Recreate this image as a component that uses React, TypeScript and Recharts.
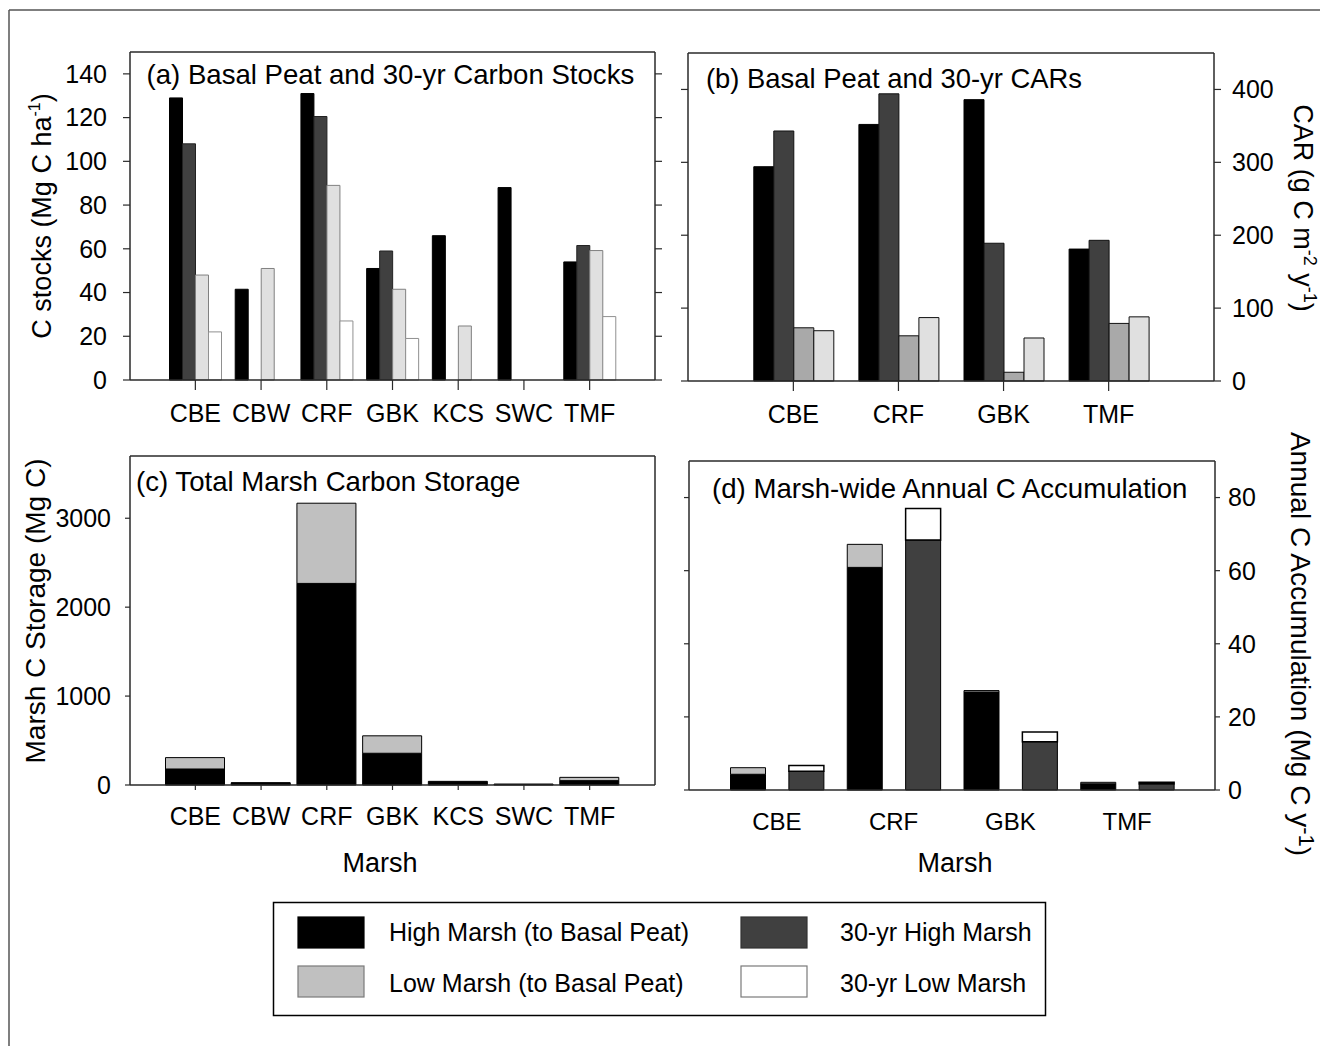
import React from 'react';
import { BarChart, Bar, XAxis, YAxis } from 'recharts';

const FONT = '"Liberation Sans", Arial, Helvetica, sans-serif';

// ---------- Panel (a): Basal peat and 30-yr carbon stocks (Mg C ha-1)
const marshesAll = ['CBE', 'CBW', 'CRF', 'GBK', 'KCS', 'SWC', 'TMF'];
const stockHighBasal = [129, 41.5, 131, 51, 66, 88, 54];
const stockHigh30 = [108, 0, 120.5, 59, 0, 0, 61.5];
const stockLowBasal = [48, 51, 89, 41.5, 24.7, 0, 59.2];
const stockLow30 = [22, 0, 27, 19, 0, 0, 29];
const stockTicks = [0, 20, 40, 60, 80, 100, 120, 140];

// ---------- Panel (b): Basal peat and 30-yr CARs (g C m-2 y-1)
const marshesCar = ['CBE', 'CRF', 'GBK', 'TMF'];
const carHighBasal = [294, 352, 386, 181];
const carHigh30 = [343, 394, 189, 193];
const carLowBasal = [73, 62, 12, 79];
const carLow30 = [69, 87, 59, 88];
const carTicks = [0, 100, 200, 300, 400];

// ---------- Panel (c): Total marsh carbon storage (Mg C)
const storageHigh = [180, 22, 2267, 357, 41, 11, 49];
const storageLow = [128, 3, 902, 196, 0, 0, 37];
const storageTicks = [0, 1000, 2000, 3000];

// ---------- Panel (d): Marsh-wide annual C accumulation (Mg C y-1)
const accumHighBasal = [4.3, 60.9, 26.8, 1.7];
const accumLowBasal = [1.8, 6.3, 0.4, 0.4];
const accumHigh30 = [5.1, 68.4, 13.2, 1.7];
const accumLow30 = [1.6, 8.6, 2.7, 0.4];
const accumTicks = [0, 20, 40, 60, 80];

// ---------- Legend
const legendNames = ['High Marsh (to Basal Peat)', 'Low Marsh (to Basal Peat)', '30-yr High Marsh', '30-yr Low Marsh'];

const C_BLACK = '#000000';
const C_DARK = '#404040';
const C_LIGHT = '#c0c0c0';
const C_PALE = '#e0e0e0';
const C_MID = '#a9a9a9';
const C_WHITE = '#ffffff';
const AXIS = '#2a2a2a';

const stockData = marshesAll.map((m, i) => ({
  marsh: m,
  hb: stockHighBasal[i],
  h30: stockHigh30[i],
  lb: stockLowBasal[i],
  l30: stockLow30[i],
}));

const carData = marshesCar.map((m, i) => ({
  marsh: m,
  hb: carHighBasal[i],
  h30: carHigh30[i],
  lb: carLowBasal[i],
  l30: carLow30[i],
}));

const storageData = marshesAll.map((m, i) => ({
  marsh: m,
  high: storageHigh[i],
  low: storageLow[i],
}));

const accumData = marshesCar.flatMap((m, i) => [
  { bar: m + ' basal', group: m, hb: accumHighBasal[i], lb: accumLowBasal[i], h30: 0, l30: 0 },
  { bar: m + ' 30-yr', group: m, hb: 0, lb: 0, h30: accumHigh30[i], l30: accumLow30[i] },
]);

const axisLine = { stroke: AXIS, strokeWidth: 1.5 };
const tickLineStyle = { stroke: AXIS, strokeWidth: 1.2 };
const tickText = { fontSize: 25, fill: '#000', fontFamily: FONT };
const blank = () => '';

function PanelA() {
  return (
    <div style={{ position: 'absolute', left: 0, top: 0 }}>
      <BarChart width={700} height={440} data={stockData} margin={{ top: 51, right: 0, bottom: 0, left: 0 }} barGap={0} barSize={13}>
        <XAxis dataKey="marsh" interval={0} padding={{ left: 32.5, right: 32.5 }} height={60} tickSize={10} tickMargin={14} tick={tickText} axisLine={axisLine} tickLine={tickLineStyle} />
        <XAxis xAxisId="top" orientation="top" dataKey="marsh" padding={{ left: 32.5, right: 32.5 }} height={1} tick={false} tickLine={false} axisLine={axisLine} />
        <YAxis domain={[0, 150]} ticks={stockTicks} interval={0} width={130} tickSize={7} tickMargin={16} tick={tickText} axisLine={axisLine} tickLine={tickLineStyle} />
        <YAxis yAxisId="right" orientation="right" type="number" allowDataOverflow domain={[0, 150]} ticks={stockTicks} interval={0} width={45} tickSize={7} tick={tickText} tickFormatter={blank} axisLine={axisLine} tickLine={tickLineStyle} />
        <Bar dataKey="hb" fill={C_BLACK} stroke="#000" strokeWidth={1} isAnimationActive={false} />
        <Bar dataKey="h30" fill={C_DARK} stroke="#222" strokeWidth={1} isAnimationActive={false} />
        <Bar dataKey="lb" fill={C_PALE} stroke="#808080" strokeWidth={1} isAnimationActive={false} />
        <Bar dataKey="l30" fill={C_WHITE} stroke="#909090" strokeWidth={1} isAnimationActive={false} />
      </BarChart>
    </div>
  );
}

function PanelB() {
  return (
    <div style={{ position: 'absolute', left: 660, top: 0 }}>
      <BarChart width={660} height={440} data={carData} margin={{ top: 52, right: 0, bottom: 0, left: 0 }} barGap={0} barSize={20}>
        <XAxis dataKey="marsh" interval={0} padding={{ left: 52.8, right: 52.8 }} height={59} tickSize={10} tickMargin={14} tick={tickText} axisLine={axisLine} tickLine={tickLineStyle} />
        <XAxis xAxisId="top" orientation="top" dataKey="marsh" padding={{ left: 52.8, right: 52.8 }} height={1} tick={false} tickLine={false} axisLine={axisLine} />
        <YAxis domain={[0, 450]} ticks={carTicks} interval={0} width={28} tickSize={7} tick={tickText} tickFormatter={blank} axisLine={axisLine} tickLine={tickLineStyle} />
        <YAxis yAxisId="right" orientation="right" type="number" allowDataOverflow domain={[0, 450]} ticks={carTicks} interval={0} width={106} tickSize={7} tickMargin={11} tick={tickText} axisLine={axisLine} tickLine={tickLineStyle} />
        <Bar dataKey="hb" fill={C_BLACK} stroke="#000" strokeWidth={1} isAnimationActive={false} />
        <Bar dataKey="h30" fill={C_DARK} stroke="#111" strokeWidth={1} isAnimationActive={false} />
        <Bar dataKey="lb" fill={C_MID} stroke="#111" strokeWidth={1} isAnimationActive={false} />
        <Bar dataKey="l30" fill={C_PALE} stroke="#111" strokeWidth={1} isAnimationActive={false} />
      </BarChart>
    </div>
  );
}

function PanelC() {
  return (
    <div style={{ position: 'absolute', left: 0, top: 420 }}>
      <BarChart width={700} height={480} data={storageData} margin={{ top: 35, right: 0, bottom: 55, left: 0 }} barSize={59}>
        <XAxis dataKey="marsh" interval={0} padding={{ left: 32.5, right: 32.5 }} height={60} tickSize={5} tickMargin={17} tick={tickText} axisLine={axisLine} tickLine={tickLineStyle} />
        <XAxis xAxisId="top" orientation="top" dataKey="marsh" padding={{ left: 32.5, right: 32.5 }} height={1} tick={false} tickLine={false} axisLine={axisLine} />
        <YAxis domain={[0, 3700]} ticks={storageTicks} interval={0} width={130} tickSize={5} tickMargin={14} tick={tickText} axisLine={axisLine} tickLine={tickLineStyle} />
        <YAxis yAxisId="right" orientation="right" type="number" allowDataOverflow domain={[0, 3700]} ticks={storageTicks} width={45} tick={false} tickLine={false} axisLine={axisLine} />
        <Bar dataKey="high" stackId="s" fill={C_BLACK} stroke="#000" strokeWidth={1} isAnimationActive={false} />
        <Bar dataKey="low" stackId="s" fill={C_LIGHT} stroke="#000" strokeWidth={1} isAnimationActive={false} />
      </BarChart>
    </div>
  );
}

function PanelD() {
  return (
    <div style={{ position: 'absolute', left: 660, top: 420 }}>
      <BarChart width={660} height={480} data={accumData} margin={{ top: 40, right: 0, bottom: 50, left: 0 }} barSize={35}>
        <XAxis xAxisId="groups" dataKey="group" allowDuplicatedCategory={false} interval={0} padding={{ left: 29.5, right: 29.5 }} height={60} tickSize={0} tickMargin={23} tickLine={false} tick={{ ...tickText, fontSize: 24 }} axisLine={axisLine} />
        <XAxis xAxisId="bars" dataKey="bar" hide height={0} padding={{ left: 29.5, right: 29.5 }} />
        <XAxis xAxisId="top" orientation="top" dataKey="bar" padding={{ left: 29.5, right: 29.5 }} height={1} tick={false} tickLine={false} axisLine={axisLine} />
        <YAxis domain={[0, 90]} ticks={accumTicks} interval={0} width={29} tickSize={5} tick={tickText} tickFormatter={blank} axisLine={axisLine} tickLine={tickLineStyle} />
        <YAxis yAxisId="right" orientation="right" type="number" allowDataOverflow domain={[0, 90]} ticks={accumTicks} interval={0} width={105} tickSize={5} tickMargin={8} tick={tickText} axisLine={axisLine} tickLine={tickLineStyle} />
        <Bar xAxisId="bars" dataKey="hb" stackId="s" fill={C_BLACK} stroke="#000" strokeWidth={1} isAnimationActive={false} />
        <Bar xAxisId="bars" dataKey="lb" stackId="s" fill={C_LIGHT} stroke="#000" strokeWidth={1} isAnimationActive={false} />
        <Bar xAxisId="bars" dataKey="h30" stackId="s" fill={C_DARK} stroke="#000" strokeWidth={1} isAnimationActive={false} />
        <Bar xAxisId="bars" dataKey="l30" stackId="s" fill={C_WHITE} stroke="#000" strokeWidth={1.5} isAnimationActive={false} />
      </BarChart>
    </div>
  );
}

function Overlay() {
  const legendColors = [C_BLACK, C_LIGHT, C_DARK, C_WHITE];
  const legendStrokes = ['#000', '#7a7a7a', '#333', '#7a7a7a'];
  const legendPos = [
    { sx: 298, sy: 917, tx: 389, ty: 941 },
    { sx: 298, sy: 966, tx: 389, ty: 992 },
    { sx: 741, sy: 917, tx: 840, ty: 941 },
    { sx: 741, sy: 966, tx: 840, ty: 992 },
  ];
  return (
    <svg width={1320} height={1046} style={{ position: 'absolute', left: 0, top: 0, pointerEvents: 'none' }} fontFamily={FONT}>
      <line x1={9} y1={10} x2={1320} y2={10} stroke="#555" strokeWidth={1.5} />
      <line x1={9} y1={10} x2={9} y2={1046} stroke="#555" strokeWidth={1.5} />

      <text x={146.5} y={84} fontSize={27.6} fill="#000">(a) Basal Peat and 30-yr Carbon Stocks</text>
      <text x={706} y={88} fontSize={27.4} fill="#000">(b) Basal Peat and 30-yr CARs</text>
      <text x={136} y={491} fontSize={27.6} fill="#000">(c) Total Marsh Carbon Storage</text>
      <text x={712} y={498} fontSize={27.6} fill="#000">(d) Marsh-wide Annual C Accumulation</text>

      <text transform="translate(50.5,216) rotate(-90)" textAnchor="middle" fontSize={27} fill="#000">
        C stocks (Mg C ha<tspan dy={-11} fontSize={16}>-1</tspan><tspan dy={11}>)</tspan>
      </text>
      <text transform="translate(45,611) rotate(-90)" textAnchor="middle" fontSize={28} fill="#000">
        Marsh C Storage (Mg C)
      </text>
      <text transform="translate(1294,208) rotate(90)" textAnchor="middle" fontSize={27} fill="#000">
        CAR (g C m<tspan dy={-10} fontSize={18}>-2</tspan><tspan dy={10}> y</tspan><tspan dy={-10} fontSize={18}>-1</tspan><tspan dy={10}>)</tspan>
      </text>
      <text transform="translate(1291,644) rotate(90)" textAnchor="middle" fontSize={28} fill="#000">
        Annual C Accumulation (Mg C y<tspan dy={-8} fontSize={22}>-1</tspan><tspan dy={8}>)</tspan>
      </text>

      <text x={380} y={872} textAnchor="middle" fontSize={27} fill="#000">Marsh</text>
      <text x={955} y={872} textAnchor="middle" fontSize={27} fill="#000">Marsh</text>

      <rect x={273.5} y={902.5} width={772} height={113} fill="none" stroke="#000" strokeWidth={1.5} />
      {legendNames.map((name, i) => (
        <g key={name}>
          <rect x={legendPos[i].sx} y={legendPos[i].sy} width={66} height={31} fill={legendColors[i]} stroke={legendStrokes[i]} strokeWidth={1.2} />
          <text x={legendPos[i].tx} y={legendPos[i].ty} fontSize={25} fill="#000">{name}</text>
        </g>
      ))}
    </svg>
  );
}

export default function App() {
  return (
    <div style={{ position: 'absolute', left: 0, top: 0, width: 1320, height: 1046, overflow: 'hidden', background: '#fff', fontFamily: FONT }}>
      <PanelA />
      <PanelB />
      <PanelC />
      <PanelD />
      <Overlay />
    </div>
  );
}
